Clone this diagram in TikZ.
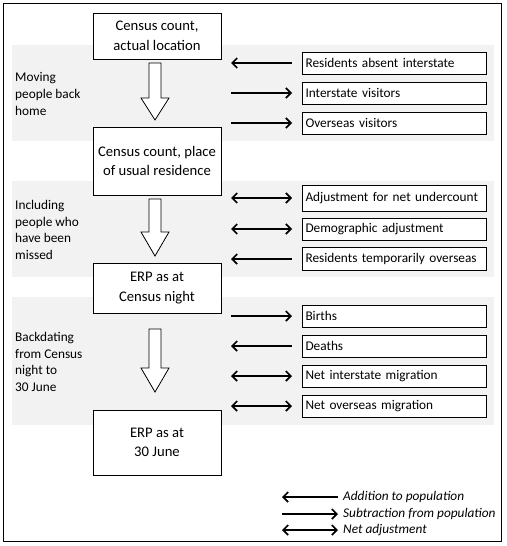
\documentclass[tikz,border=0pt]{standalone}
\usepackage{fontspec}
\setmainfont{Carlito}
\usetikzlibrary{arrows.meta,calc}
\begin{document}
\begin{tikzpicture}[x=1pt,y=-1pt,
  band/.style={fill=black!5,draw=none},
  mainbox/.style={draw,line width=1pt,fill=white,minimum width=128pt,align=center,font=\fontsize{14.67}{19.5}\selectfont,inner sep=0pt},
  sidebox/.style={draw,line width=1pt,fill=white,minimum width=184pt,minimum height=22pt,anchor=west,inner sep=2pt,font=\fontsize{13.3}{16}\selectfont,text width=178pt,align=left},
  bandlabel/.style={anchor=west,align=left,inner sep=0pt,font=\fontsize{13.3}{16.6}\selectfont},
  flow/.style={line width=1.8pt},
  tipL/.style={flow,{Straight Barb[length=5pt,width=10pt,line width=1.7pt]}-},
  tipR/.style={flow,-{Straight Barb[length=5pt,width=10pt,line width=1.7pt]}},
  tipB/.style={flow,{Straight Barb[length=5pt,width=10pt,line width=1.7pt]}-{Straight Barb[length=5pt,width=10pt,line width=1.7pt]}},
  blockarrow/.style={draw,line width=0.8pt,fill=white},
  legendtext/.style={anchor=west,inner sep=0pt,font=\fontsize{13.3}{16}\selectfont\itshape}
]
\useasboundingbox (0,0) rectangle (506,546);
\draw[line width=1pt] (3,3) rectangle (501,541);
% bands
\fill[band] (12,45) rectangle (494,141);
\fill[band] (12,181) rectangle (494,277);
\fill[band] (12,297) rectangle (494,425);
% band labels
\node[bandlabel] (l1) at (15,94) {Moving\\people back\\home};
\node[bandlabel] (l2) at (15,230) {Including\\people who\\have been\\missed};
\node[bandlabel] (l3) at (15,362) {Backdating\\from Census\\night to\\30 June};
% main boxes
\node[mainbox,minimum height=46pt] (b1) at (157,36) {Census count,\\actual location};
\node[mainbox,minimum height=68pt] (b2) at (157,161) {Census count, place\\of usual residence};
\node[mainbox,minimum height=50pt] (b3) at (157,288) {ERP as at\\Census night};
\node[mainbox,minimum height=65pt] (b4) at (157,442.5) {ERP as at\\30 June};
% block arrows
\foreach \t/\h/\e in {63/98/120, 199/232/256, 329/368/392}{
  \draw[blockarrow] (149,\t) -- (161,\t) -- (161,\h) -- (169,\h) -- (155,\e) -- (141,\h) -- (149,\h) -- cycle;
}
% side boxes
\node[sidebox] (r1) at (302,63) {Residents absent interstate};
\node[sidebox] (r2) at (302,93) {Interstate visitors};
\node[sidebox] (r3) at (302,123) {Overseas visitors};
\node[sidebox,minimum height=26pt] (r4) at (302,198) {Adjustment for net undercount};
\node[sidebox] (r5) at (302,229) {Demographic adjustment};
\node[sidebox,minimum height=23pt] (r6) at (302,259) {Residents temporarily overseas};
\node[sidebox] (r7) at (302,316) {Births};
\node[sidebox] (r8) at (302,346) {Deaths};
\node[sidebox] (r9) at (302,376) {Net interstate migration};
\node[sidebox] (r10) at (302,406) {Net overseas migration};
% side arrows
\foreach \n/\s in {r1/tipL, r2/tipR, r3/tipR, r4/tipB, r5/tipB, r6/tipL, r7/tipR, r8/tipL, r9/tipB, r10/tipB}{
  \coordinate (s\n) at ($(\n.west)+(-71,0)$);
  \coordinate (e\n) at ($(\n.west)+(-10,0)$);
  \draw[\s] (s\n) -- (e\n);
}
% legend
\coordinate (la1) at (282,497); \coordinate (lb1) at (338,497);
\coordinate (la2) at (282,514); \coordinate (lb2) at (338,514);
\coordinate (la3) at (282,530); \coordinate (lb3) at (338,530);
\draw[tipL] (la1) -- (lb1);
\draw[tipR] (la2) -- (lb2);
\draw[tipB] (la3) -- (lb3);
\node[legendtext] (t1) at (343,497) {Addition to population};
\node[legendtext] (t2) at (343,514) {Subtraction from population};
\node[legendtext] (t3) at (343,530) {Net adjustment};
\end{tikzpicture}
\end{document}
